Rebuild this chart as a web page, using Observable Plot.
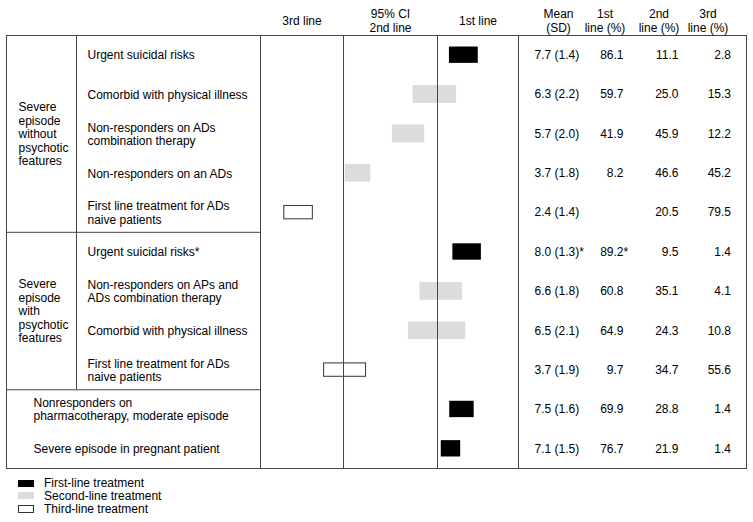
<!DOCTYPE html>
<html>
<head>
<meta charset="utf-8">
<script src="https://cdn.jsdelivr.net/npm/d3@7"></script>
<script src="https://cdn.jsdelivr.net/npm/@observablehq/plot@0.6"></script>
<style>
  body { margin: 0; background: #fff; font-family: "Liberation Sans", Arial, sans-serif; font-size: 12px; color: #000; }
  #legend { position: relative; height: 49px; width: 753px; }
  .item { position: absolute; left: 18px; height: 14px; display: flex; align-items: center; line-height: 14px; }
  .sw { width: 16px; height: 7px; box-sizing: border-box; margin-right: 10px; }
</style>
</head>
<body>
<div id="chart"></div>
<div id="legend"></div>
<script>
// ---- data ----
const scenarios = [
  "Urgent suicidal risks",
  "Comorbid with physical illness",
  "Non-responders on ADs\ncombination therapy",
  "Non-responders on an ADs",
  "First line treatment for ADs\nnaive patients",
  "Urgent suicidal risks*",
  "Non-responders on APs and\nADs combination therapy",
  "Comorbid with physical illness",
  "First line treatment for ADs\nnaive patients",
  "Nonresponders on\npharmacotherapy, moderate episode",
  "Severe episode in pregnant patient"
];
const groupLabels = ["Severe\nepisode\nwithout\npsychotic\nfeatures", "Severe\nepisode\nwith\npsychotic\nfeatures"];
const groupStart = [0, 5];
const groupEnd = [5, 9];
const ciLow  = [6.88, 5.72, 5.06, 3.56, 1.61, 6.99, 5.94, 5.57, 2.88, 6.89, 6.62];
const ciHigh = [7.80, 7.11, 6.09, 4.37, 2.52, 7.90, 7.30, 7.40, 4.22, 7.67, 7.24];
const recLine = [1, 2, 2, 2, 3, 1, 2, 2, 3, 1, 1];
const meanScore = [7.7, 6.3, 5.7, 3.7, 2.4, 8.0, 6.6, 6.5, 3.7, 7.5, 7.1];
const sdScore   = [1.4, 2.2, 2.0, 1.8, 1.4, 1.3, 1.8, 2.1, 1.9, 1.6, 1.5];
const meanNote  = ["", "", "", "", "", "*", "", "", "", "", ""];
const pctFirst  = [86.1, 59.7, 41.9, 8.2, null, 89.2, 60.8, 64.9, 9.7, 69.9, 76.7];
const firstNote = ["", "", "", "", "", "*", "", "", "", "", ""];
const pctSecond = [11.1, 25.0, 45.9, 46.6, 20.5, 9.5, 35.1, 24.3, 34.7, 28.8, 21.9];
const pctThird  = [2.8, 15.3, 12.2, 45.2, 79.5, 1.4, 4.1, 10.8, 55.6, 1.4, 1.4];
const zoneHeaders = ["3rd line", "95% CI\n2nd line", "1st line"];
const tableHeaders = ["Mean\n(SD)", "1st\nline (%)", "2nd\nline (%)", "3rd\nline (%)"];
const lineNames = ["First-line treatment", "Second-line treatment", "Third-line treatment"];
const ciCuts = [3.5, 6.5];
const scaleDomain = [0.85, 9.085];

// ---- styling / layout ----
const lineColors = ["#000000", "#dcdcdc", "#ffffff"];
const gridColor = "#444";
const W = 753, H = 473;
const mL = 6, mR = 7, mT = 35, mB = H - 468;
const fmt = v => v == null ? "" : v.toFixed(1);

const rows = scenarios.map((label, i) => ({
  i, label,
  lo: ciLow[i], hi: ciHigh[i], line: recLine[i],
  grouped: groupStart.some((s, g) => i >= s && i < groupEnd[g]),
  mean: `${fmt(meanScore[i])} (${fmt(sdScore[i])})${meanNote[i]}`,
  first: fmt(pctFirst[i]), firstNote: firstNote[i],
  second: fmt(pctSecond[i]), third: fmt(pctThird[i])
}));
const groups = groupLabels.map((label, g) => ({label, start: groupStart[g], end: groupEnd[g]}));
const zoneBounds = [scaleDomain[0], ...ciCuts, scaleDomain[1]];
const zones = zoneHeaders.map((h, k) => ({h, mid: (zoneBounds[k] + zoneBounds[k + 1]) / 2}));

const font = {fontSize: 12, fill: "#000"};
const headerY = -15;
const tableCols = [
  {text: "mean", dx: 528, anchor: "start"},
  {text: "first", dx: 617, anchor: "end"},
  {text: "firstNote", dx: 617, anchor: "start"},
  {text: "second", dx: 672, anchor: "end"},
  {text: "third", dx: 724.5, anchor: "end"}
];
const headerCenters = [552, 598.5, 652.5, 701.5];

const barInset = {1: 11.5, 2: 10.8, 3: 13};

const chart = Plot.plot({
  width: W, height: H,
  marginLeft: mL, marginRight: mR, marginTop: mT, marginBottom: mB,
  style: {fontFamily: '"Liberation Sans", Arial, sans-serif', fontSize: "12px", background: "#fff", color: "#000"},
  x: {domain: scaleDomain, range: [260, 518], axis: null},
  y: {domain: [0, rows.length], range: [35, 468], axis: null},
  color: {domain: [1, 2, 3], range: lineColors},
  marks: [
    // CI bars
    ...[1, 2, 3].map(t => Plot.rect(rows.filter(d => d.line === t), {
      x1: "lo", x2: "hi", y1: "i", y2: d => d.i + 1,
      fill: "line",
      stroke: t === 3 ? "#333" : null, strokeWidth: 1,
      insetTop: barInset[t], insetBottom: barInset[t]
    })),
    // table grid
    Plot.frame({stroke: gridColor}),
    Plot.ruleX([...ciCuts, ...scaleDomain], {y1: 0, y2: rows.length, stroke: gridColor}),
    Plot.ruleX([groups[0]], {x: null, y1: groupStart[0], y2: groupEnd[groupEnd.length - 1], dx: -300, stroke: gridColor}),
    Plot.ruleY(groupEnd, {x1: null, x2: scaleDomain[0], stroke: gridColor}),
    // header
    Plot.text(zones, {x: "mid", frameAnchor: "top", dy: headerY, text: "h", lineAnchor: "middle", lineHeight: 1.2, ...font}),
    ...tableHeaders.map((h, k) => Plot.text([h], {frameAnchor: "top-left", dx: headerCenters[k], dy: headerY, text: d => d, textAnchor: "middle", lineAnchor: "middle", lineHeight: 1.2, ...font})),
    // group labels
    Plot.text(groups, {y: d => (d.start + d.end) / 2, frameAnchor: "left", dx: 12, text: "label", textAnchor: "start", lineAnchor: "middle", lineHeight: 1.12, ...font}),
    // row labels
    Plot.text(rows.filter(d => d.grouped), {y: d => d.i + 0.5, frameAnchor: "left", dx: 81, text: "label", textAnchor: "start", lineAnchor: "middle", lineHeight: 1.12, ...font}),
    Plot.text(rows.filter(d => !d.grouped), {y: d => d.i + 0.5, frameAnchor: "left", dx: 27, text: "label", textAnchor: "start", lineAnchor: "middle", lineHeight: 1.12, ...font}),
    // numeric columns
    ...tableCols.map(c => Plot.text(rows, {y: d => d.i + 0.5, frameAnchor: "left", dx: c.dx, text: c.text, textAnchor: c.anchor, lineAnchor: "middle", ...font}))
  ]
});
document.getElementById("chart").appendChild(chart);

// legend
const legend = document.getElementById("legend");
const legendTops = [3, 15.5, 29];
lineNames.forEach((name, k) => {
  const item = document.createElement("div");
  item.className = "item";
  item.style.top = legendTops[k] + "px";
  const sw = document.createElement("span");
  sw.className = "sw";
  sw.style.background = lineColors[k];
  if (k === 2) { sw.style.border = "1px solid #333"; sw.style.height = "8px"; }
  item.appendChild(sw);
  item.appendChild(document.createTextNode(name));
  legend.appendChild(item);
});
</script>
</body>
</html>
